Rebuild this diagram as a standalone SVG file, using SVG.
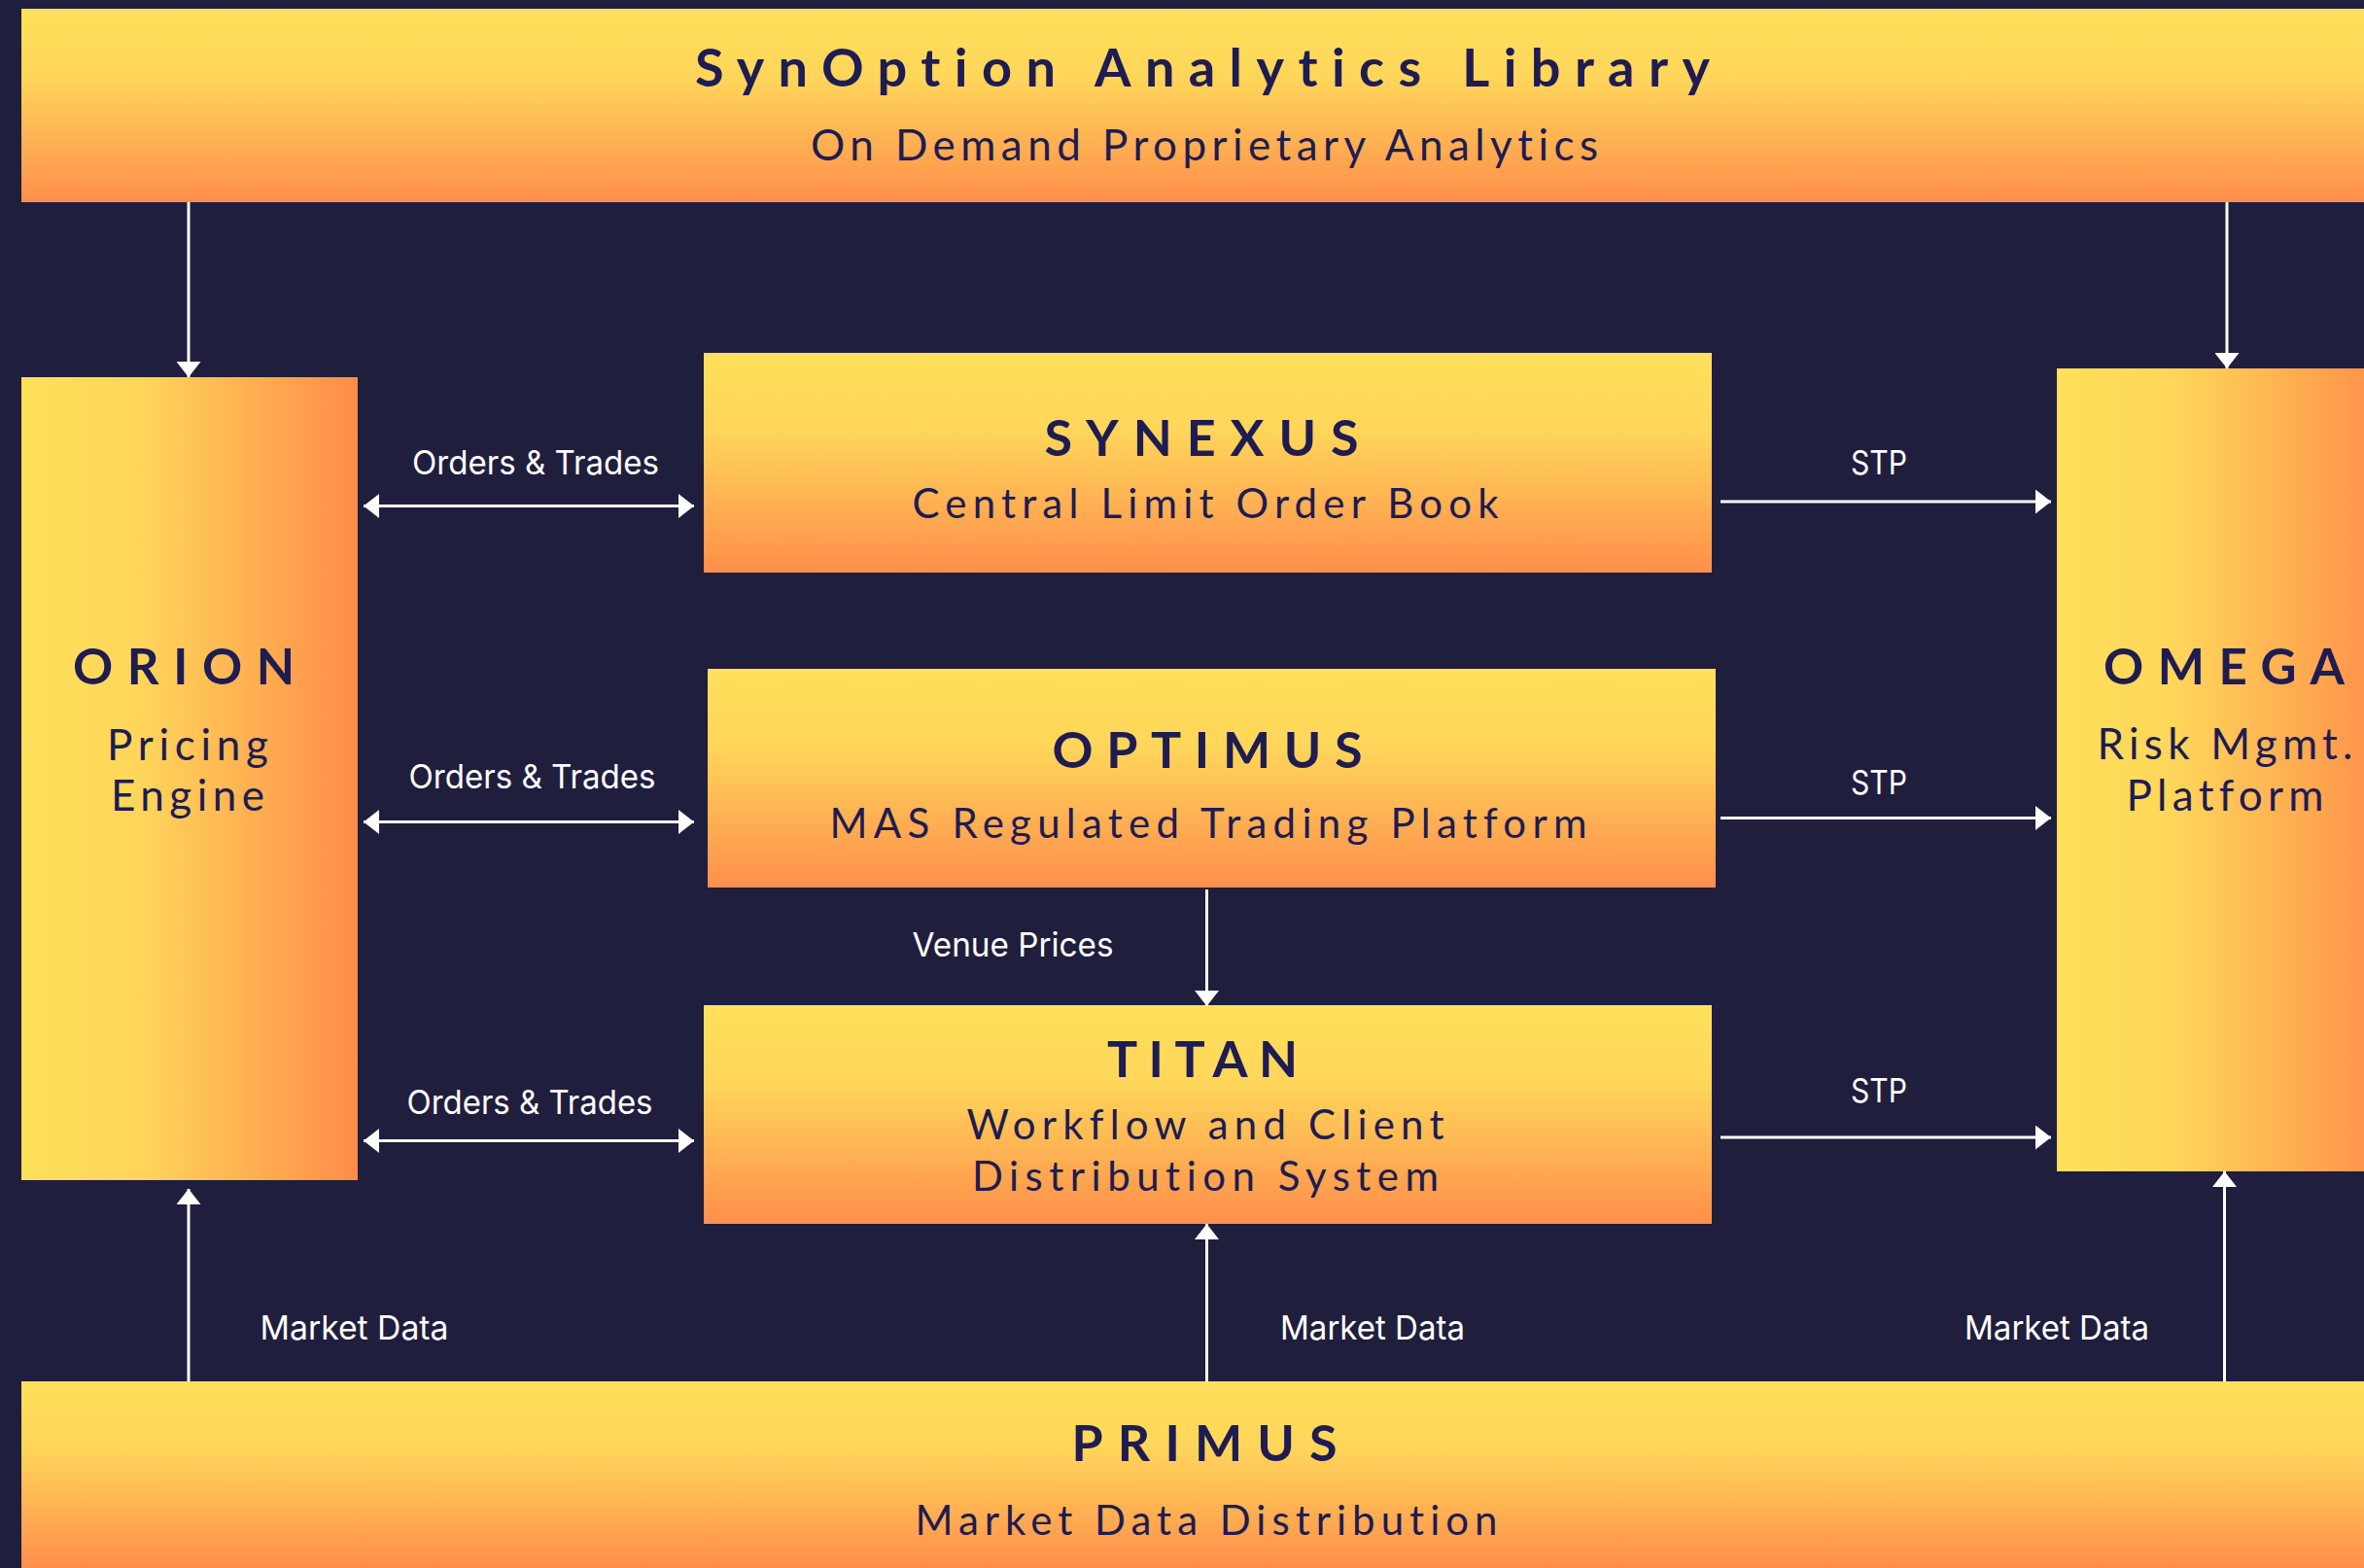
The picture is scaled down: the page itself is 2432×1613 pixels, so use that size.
<svg xmlns="http://www.w3.org/2000/svg" width="2432" height="1613" viewBox="0 0 2432 1613">
  <defs>
    <linearGradient id="gv" x1="0" y1="0" x2="0" y2="1">
      <stop offset="0" stop-color="#FFE05B"/>
      <stop offset="0.35" stop-color="#FFD65A"/>
      <stop offset="1" stop-color="#FF8E4B"/>
    </linearGradient>
    <linearGradient id="gh" x1="0" y1="0" x2="1" y2="0">
      <stop offset="0" stop-color="#FFE05B"/>
      <stop offset="0.35" stop-color="#FFD65A"/>
      <stop offset="1" stop-color="#FF8C4A"/>
    </linearGradient>
    <marker id="ah" markerWidth="16" markerHeight="25" refX="16" refY="12.5" orient="auto-start-reverse" markerUnits="userSpaceOnUse">
      <path d="M0,0 L16,12.5 L0,25 z" fill="#FFFFFF"/>
    </marker>
    <style>
      text { font-variant-ligatures: none; font-feature-settings: "liga" 0, "clig" 0; }
      .title { font-family: Lato, "Liberation Sans", sans-serif; font-weight: 700; fill: #1E1C52; text-anchor: middle; }
      .sub { font-family: Lato, "Liberation Sans", sans-serif; font-weight: 400; fill: #1E1C52; text-anchor: middle; }
      .lbl { font-family: Inter, "Liberation Sans", sans-serif; font-weight: 400; fill: #FFFFFF; text-anchor: middle; font-size: 34px; }
      .ln { stroke: #FFFFFF; stroke-width: 3; fill: none; }
      .one { marker-end: url(#ah); }
      .two { marker-start: url(#ah); marker-end: url(#ah); }
    </style>
  </defs>
  <rect x="0" y="0" width="2432" height="1613" fill="#1F1E3D"/>

  <g id="synoption">
    <rect x="22" y="9" width="2410" height="199" fill="url(#gv)"/>
    <text class="title" x="1237" y="89" font-size="54" textLength="1044" lengthAdjust="spacing">SynOption Analytics Library</text>
    <text class="sub" x="1239" y="165" font-size="44" textLength="810" lengthAdjust="spacing">On Demand Proprietary Analytics</text>
  </g>

  <g id="orion">
    <rect x="22" y="388" width="346" height="826" fill="url(#gh)"/>
    <text class="title" x="189" y="704" font-size="51" textLength="228" lengthAdjust="spacing">ORION</text>
    <text class="sub" x="193" y="782" font-size="44" textLength="166" lengthAdjust="spacing">Pricing</text>
    <text class="sub" x="193" y="834" font-size="44" textLength="158" lengthAdjust="spacing">Engine</text>
  </g>

  <g id="synexus">
    <rect x="724" y="363" width="1037" height="226" fill="url(#gv)"/>
    <text class="title" x="1236" y="469" font-size="52" textLength="323" lengthAdjust="spacing">SYNEXUS</text>
    <text class="sub" x="1240" y="533" font-size="42" textLength="603" lengthAdjust="spacing">Central Limit Order Book</text>
  </g>

  <g id="optimus">
    <rect x="728" y="688" width="1037" height="225" fill="url(#gv)"/>
    <text class="title" x="1242" y="790" font-size="52" textLength="319" lengthAdjust="spacing">OPTIMUS</text>
    <text class="sub" x="1243" y="862" font-size="42" textLength="779" lengthAdjust="spacing">MAS Regulated Trading Platform</text>
  </g>

  <g id="titan">
    <rect x="724" y="1034" width="1037" height="225" fill="url(#gv)"/>
    <text class="title" x="1237" y="1108" font-size="52" textLength="196" lengthAdjust="spacing">TITAN</text>
    <text class="sub" x="1240" y="1172" font-size="42" textLength="491" lengthAdjust="spacing">Workflow and Client</text>
    <text class="sub" x="1240" y="1225" font-size="42" textLength="480" lengthAdjust="spacing">Distribution System</text>
  </g>

  <g id="omega">
    <rect x="2116" y="379" width="346" height="826" fill="url(#gh)"/>
    <text class="title" x="2288" y="704" font-size="51" textLength="248" lengthAdjust="spacing">OMEGA</text>
    <text class="sub" x="2289" y="781" font-size="44" textLength="263" lengthAdjust="spacing">Risk Mgmt.</text>
    <text class="sub" x="2289" y="834" font-size="44" textLength="203" lengthAdjust="spacing">Platform</text>
  </g>

  <g id="primus">
    <rect x="22" y="1421" width="2410" height="192" fill="url(#gv)"/>
    <text class="title" x="1239" y="1503" font-size="52" textLength="273" lengthAdjust="spacing">PRIMUS</text>
    <text class="sub" x="1241" y="1579" font-size="42" textLength="599" lengthAdjust="spacing">Market Data Distribution</text>
  </g>

  <g id="connectors">
    <line class="ln one" x1="194" y1="208" x2="194" y2="388"/>
    <line class="ln one" x1="2291" y1="208" x2="2291" y2="379"/>

    <line class="ln two" x1="374" y1="520.5" x2="714" y2="520.5"/>
    <line class="ln two" x1="374" y1="845.5" x2="714" y2="845.5"/>
    <line class="ln two" x1="374" y1="1173.5" x2="714" y2="1173.5"/>
    <text class="lbl" x="551" y="488" textLength="254" lengthAdjust="spacingAndGlyphs">Orders &amp; Trades</text>
    <text class="lbl" x="547.5" y="811" textLength="254" lengthAdjust="spacingAndGlyphs">Orders &amp; Trades</text>
    <text class="lbl" x="545" y="1146" textLength="253" lengthAdjust="spacingAndGlyphs">Orders &amp; Trades</text>

    <line class="ln one" x1="1770" y1="516" x2="2110" y2="516"/>
    <line class="ln one" x1="1770" y1="841.5" x2="2110" y2="841.5"/>
    <line class="ln one" x1="1770" y1="1170" x2="2110" y2="1170"/>
    <text class="lbl" x="1933" y="488" textLength="58" lengthAdjust="spacingAndGlyphs">STP</text>
    <text class="lbl" x="1933" y="817" textLength="58" lengthAdjust="spacingAndGlyphs">STP</text>
    <text class="lbl" x="1933" y="1134" textLength="58" lengthAdjust="spacingAndGlyphs">STP</text>

    <line class="ln one" x1="1241.5" y1="915" x2="1241.5" y2="1035"/>
    <text class="lbl" x="1042" y="984" textLength="207" lengthAdjust="spacingAndGlyphs">Venue Prices</text>

    <line class="ln one" x1="194" y1="1421" x2="194" y2="1223"/>
    <line class="ln one" x1="1241.5" y1="1421" x2="1241.5" y2="1259"/>
    <line class="ln one" x1="2288.5" y1="1421" x2="2288.5" y2="1205"/>
    <text class="lbl" x="364.5" y="1378" textLength="194" lengthAdjust="spacingAndGlyphs">Market Data</text>
    <text class="lbl" x="1412" y="1378" textLength="190" lengthAdjust="spacingAndGlyphs">Market Data</text>
    <text class="lbl" x="2116" y="1378" textLength="190" lengthAdjust="spacingAndGlyphs">Market Data</text>
  </g>
</svg>
